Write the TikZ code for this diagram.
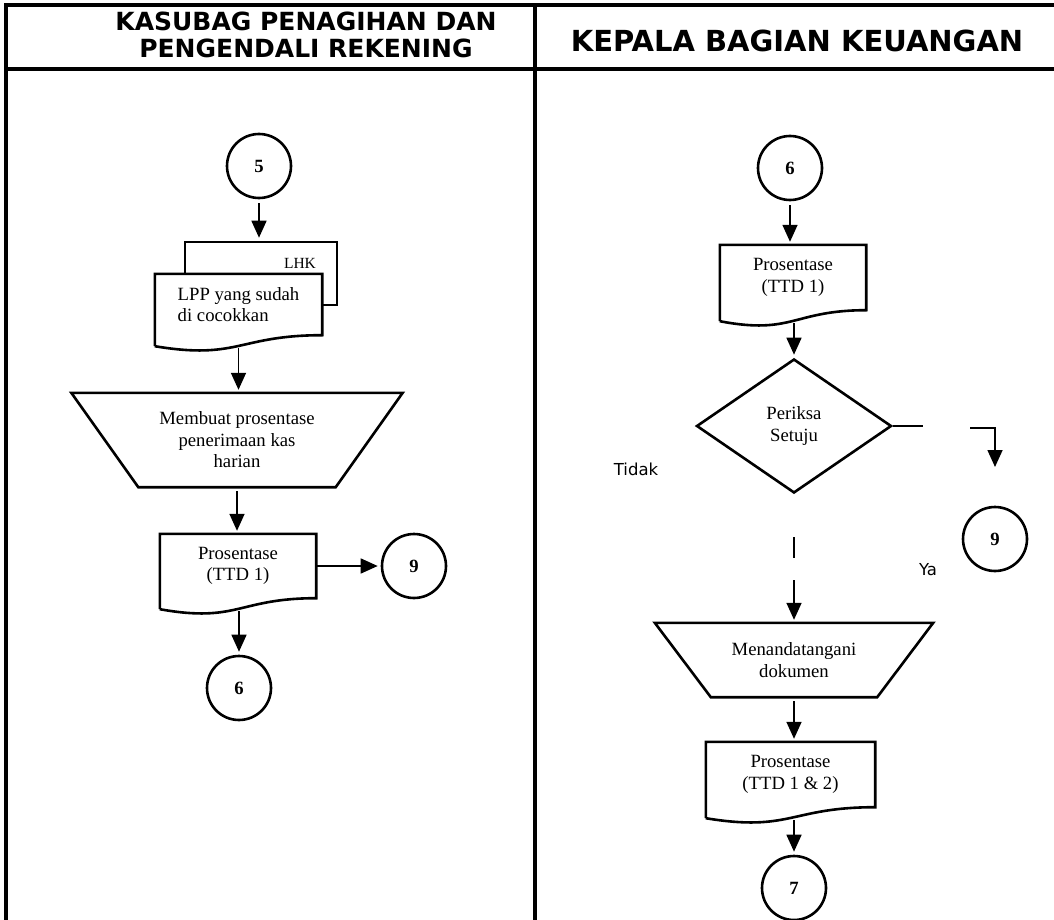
\documentclass[tikz,border=0pt]{standalone}
\usepackage{fontspec}
\setmainfont{Liberation Serif}
\newfontfamily\headfont{DejaVu Sans}
\usetikzlibrary{shapes.geometric,arrows.meta,positioning,calc}

\tikzset{
  lane/.style={line width=3.4pt},
  shapeline/.style={draw, line width=2.6pt},
  bodyfont/.style={font=\fontsize{18.7}{21.5}\selectfont},
  conn/.style={circle, shapeline, minimum size=64pt, inner sep=0pt, font=\fontsize{18.7}{21.5}\selectfont\bfseries},
  docnode/.style={rectangle, fill=white, inner sep=0pt, align=center, bodyfont},
  backdoc/.style={rectangle, shapeline, fill=white, minimum width=152pt, minimum height=63pt},
  manual/.style={rectangle, inner sep=0pt, align=center, bodyfont},
  decision/.style={diamond, shapeline, minimum width=195pt, minimum height=134pt, inner sep=0pt, align=center, bodyfont},
  headtext/.style={align=center, inner sep=0pt},
  labeltext/.style={inner sep=0pt, font=\headfont\fontsize{16.5}{19}\selectfont},
  flowline/.style={line width=1.6pt},
  flowarrow/.style={flowline, -{Triangle[width=15pt,length=17pt]}, shorten <=4pt, shorten >=3pt}
}

% document symbol: outline with wavy bottom under a node
\newcommand{\docwave}[1]{%
  \draw[shapeline] ([yshift=-11pt]#1.south west) -- (#1.north west) -- (#1.north east) -- (#1.south east)
    .. controls (#1.south) and ([yshift=-25pt]#1.south) .. ([yshift=-11pt]#1.south west);}
% manual operation: wide top, narrow bottom
\newcommand{\manualop}[2]{%
  \draw[shapeline, line join=miter] (#1.north west) -- (#1.north east) -- ([xshift=-#2]#1.south east)
    -- ([xshift=#2]#1.south west) -- cycle;}

\begin{document}
\begin{tikzpicture}[x=1pt,y=-1pt]
  \useasboundingbox (0,0) rectangle (1054,920);

  % lanes
  \draw[lane] (1054,5) -- (6,5) -- (6,920);
  \draw[lane] (6,69) -- (1054,69);
  \draw[lane] (535,5) -- (535,920);
  \node[headtext, font=\headfont\bfseries\fontsize{25}{27}\selectfont] (headkasubag) at (306,35) {KASUBAG PENAGIHAN DAN\\PENGENDALI REKENING};
  \node[headtext, font=\headfont\bfseries\fontsize{29}{31}\selectfont] (headkabag) at (797,41) {KEPALA BAGIAN KEUANGAN};

  % kasubag lane
  \node[conn] (c5) at (259,166) {5};
  \node[backdoc] (lhk) at (261,273.5) {};
  \node[inner sep=0pt, font=\fontsize{15.5}{18}\selectfont] (lhktext) at (300,263) {LHK};
  \node[docnode, align=left, minimum width=167pt, minimum height=61pt] (lpp) at (238.5,304.5) {LPP yang sudah\\di cocokkan};
  \docwave{lpp}
  \node[manual, minimum width=331pt, minimum height=94pt] (buat) at (237,440) {Membuat prosentase\\penerimaan kas\\harian};
  \manualop{buat}{67pt}
  \node[docnode, minimum width=156pt, minimum height=64pt] (pros1) at (238,566) {Prosentase\\(TTD 1)};
  \docwave{pros1}
  \node[conn] (c9a) at (414,566) {9};
  \node[conn] (c6a) at (239,688) {6};

  \draw[flowarrow] (c5.south) -- (c5.south |- lhk.north);
  \draw[flowarrow, shorten <=13pt] (lpp.south) -- (lpp.south |- buat.north);
  \draw[flowarrow] (buat.south) -- (buat.south |- pros1.north);
  \draw[flowarrow, shorten <=0pt] (pros1.east) -- (c9a.west);
  \draw[flowarrow, shorten <=13pt] (c6a.north |- pros1.south) -- (c6a.north);

  % kabag lane
  \node[conn] (c6b) at (790,168) {6};
  \node[docnode, minimum width=146pt, minimum height=65pt] (pros2) at (793,277.5) {Prosentase\\(TTD 1)};
  \docwave{pros2}
  \node[decision] (periksa) at (794,426) {Periksa\\Setuju};
  \node[conn] (c9b) at (995,539) {9};
  \node[manual, minimum width=278pt, minimum height=74pt] (tanda) at (794,660) {Menandatangani\\dokumen};
  \manualop{tanda}{56pt}
  \node[docnode, minimum width=169pt, minimum height=65pt] (pros3) at (790.5,774.5) {Prosentase\\(TTD 1 \& 2)};
  \docwave{pros3}
  \node[conn] (c7) at (794,888) {7};
  \node[labeltext] (tidak) at (636,469) {Tidak};
  \node[labeltext] (ya) at (928,570) {Ya};

  % broken branch lines
  \coordinate (yaend) at (923,428);
  \coordinate (yastart) at (970,428);
  \coordinate (yadrop) at (995,467);
  \coordinate (tidaktop) at (794,537);
  \coordinate (tidakmid) at (794,558);
  \coordinate (tidakbot) at (794,580);

  \draw[flowarrow] (c6b.south) -- (c6b.south |- pros2.north);
  \draw[flowarrow, shorten <=13pt] (periksa.north |- pros2.south) -- (periksa.north);
  \draw[flowline] (periksa.east) -- (periksa.east -| yaend);
  \draw[flowarrow, shorten <=0pt, shorten >=0pt] (yastart) -| (yadrop);
  \draw[flowline] (tidaktop) -- (tidakmid);
  \draw[flowarrow, shorten <=0pt] (tidakbot) -- (tidakbot |- tanda.north);
  \draw[flowarrow] (tanda.south) -- (tanda.south |- pros3.north);
  \draw[flowarrow, shorten <=13pt] (c7.north |- pros3.south) -- (c7.north);
\end{tikzpicture}
\end{document}
